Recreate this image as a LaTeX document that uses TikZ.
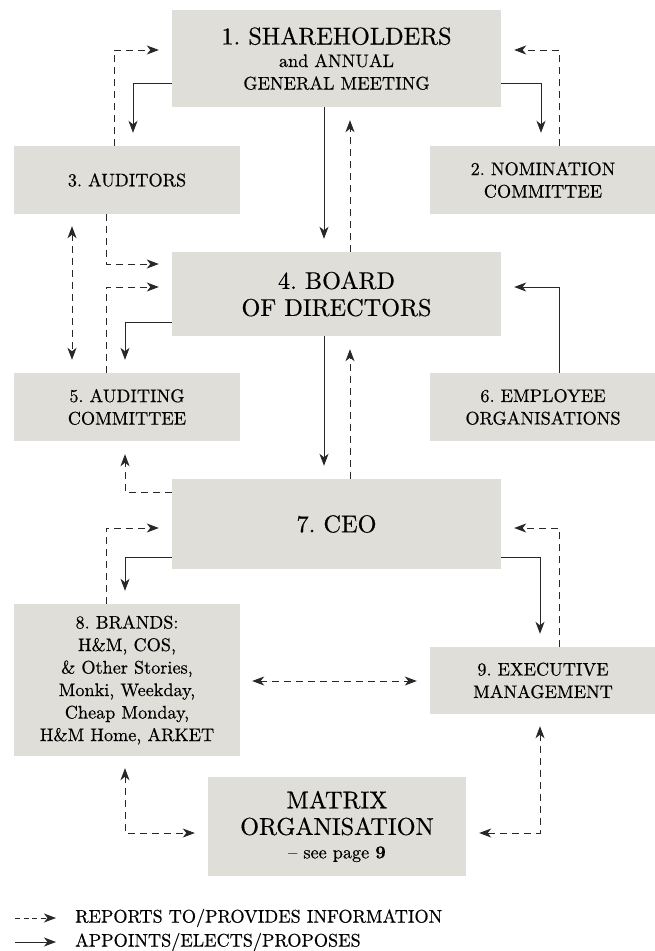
\documentclass[tikz,border=0pt]{standalone}
\usepackage{fontspec}
\setmainfont{lmroman10-regular.otf}[BoldFont=lmroman10-bold.otf, FakeBold=0.45]
\usetikzlibrary{arrows.meta}

\definecolor{boxgray}{RGB}{223,222,217}
\definecolor{linegray}{RGB}{40,40,40}
\newcommand{\largelabel}{\fontsize{24.3}{27}\selectfont}
\newcommand{\smalllabel}{\fontsize{18.2}{22.5}\selectfont}
\frenchspacing

\begin{document}
\begin{tikzpicture}[x=1pt, y=-1pt,
        box/.style={fill=boxgray, inner sep=0pt, align=center, font=\smalllabel},
        wide/.style={box, minimum width=329pt},
        side/.style={box, minimum width=226pt, minimum height=68pt},
        appt/.style={draw=linegray, line width=0.85pt, -{Stealth[length=12pt,width=9pt,inset=3.5pt]}, shorten >=13pt},
        rep/.style={appt, dash pattern=on 7pt off 5pt},
        both/.style={{Stealth[length=12pt,width=9pt,inset=3.5pt]}-{Stealth[length=12pt,width=9pt,inset=3.5pt]}, shorten <=12pt}]
        \useasboundingbox (0,0) rectangle (655,951);

        % boxes
        \node[wide, minimum height=97pt] (sh) at (336.5,58.5) {{\largelabel 1. SHAREHOLDERS}\\and ANNUAL\\GENERAL MEETING};
        \node[side] (au) at (127,180) {3. AUDITORS};
        \node[side] (nc) at (543,180) {2. NOMINATION\\COMMITTEE};
        \node[wide, minimum height=84pt, font=\largelabel] (bd) at (336.5,294) {4. BOARD\\OF DIRECTORS};
        \node[side] (ac) at (127,407) {5. AUDITING\\COMMITTEE};
        \node[side] (eo) at (543,407) {6. EMPLOYEE\\ORGANISATIONS};
        \node[wide, minimum height=90pt, font=\largelabel] (ceo) at (336.5,524) {7. CEO};
        \node[side, minimum height=152pt] (br) at (127,680) {8. BRANDS:\\H\&M, COS,\\\& Other Stories,\\Monki, Weekday,\\Cheap Monday,\\H\&M Home, ARKET};
        \node[side, minimum height=67pt] (em) at (543,680.5) {9. EXECUTIVE\\MANAGEMENT};
        \node[box, minimum width=258pt, minimum height=99pt] (mx) at (337,826.5) {{\largelabel MATRIX}\\[4pt]{\largelabel ORGANISATION}\\[1pt]-- see page \textbf{9}};

        % shareholders
        \draw[appt] (sh.west |- 0,83) -| (au.north -| 133,0);
        \draw[rep] (au.north -| 114,0) |- (sh.west |- 0,50);
        \draw[appt] (sh.east |- 0,83) -| (nc.north -| 541,0);
        \draw[rep] (nc.north -| 559,0) |- (sh.east |- 0,50);
        \draw[appt] (sh.south -| 324,0) -- (bd.north -| 324,0);
        \draw[rep] (bd.north -| 350,0) -- (sh.south -| 350,0);

        % board
        \draw[rep, both] (au.south -| 72,0) -- (ac.north -| 72,0);
        \draw[rep] (au.south -| 106,0) |- (bd.west |- 0,264);
        \draw[rep] (ac.north -| 106,0) |- (bd.west |- 0,287);
        \draw[appt] (bd.west |- 0,322) -| (ac.north -| 125,0);
        \draw[appt] (eo.north -| 559,0) |- (bd.east |- 0,287);
        \draw[appt] (bd.south -| 324,0) -- (ceo.north -| 324,0);
        \draw[rep] (ceo.north -| 350,0) -- (bd.south -| 350,0);

        % ceo
        \draw[rep] (ceo.west |- 0,492) -| (ac.south -| 125,0);
        \draw[rep] (br.north -| 106,0) |- (ceo.west |- 0,528);
        \draw[appt] (ceo.west |- 0,557) -| (br.north -| 125,0);
        \draw[rep] (em.north -| 559,0) |- (ceo.east |- 0,528);
        \draw[appt] (ceo.east |- 0,557) -| (em.north -| 540,0);
        \draw[rep, both] (br.east |- 0,681) -- (em.west |- 0,681);
        \draw[rep, both] (br.south -| 125,0) |- (mx.west |- 0,833);
        \draw[rep, both] (em.south -| 540,0) |- (mx.east |- 0,833);

        % legend
        \node[font=\smalllabel, anchor=west, inner sep=0pt] (lrep) at (75,918) {REPORTS TO/PROVIDES INFORMATION};
        \node[font=\smalllabel, anchor=west, inner sep=0pt] (lapp) at (75,942) {APPOINTS/ELECTS/PROPOSES};
        \coordinate (srep) at (15,918);
        \coordinate (sapp) at (15,942);
        \draw[rep, dash pattern=on 5pt off 3.5pt, shorten >=19pt] (srep) -- (lrep.west);
        \draw[appt, shorten >=19pt] (sapp) -- (lapp.west);
\end{tikzpicture}
\end{document}
